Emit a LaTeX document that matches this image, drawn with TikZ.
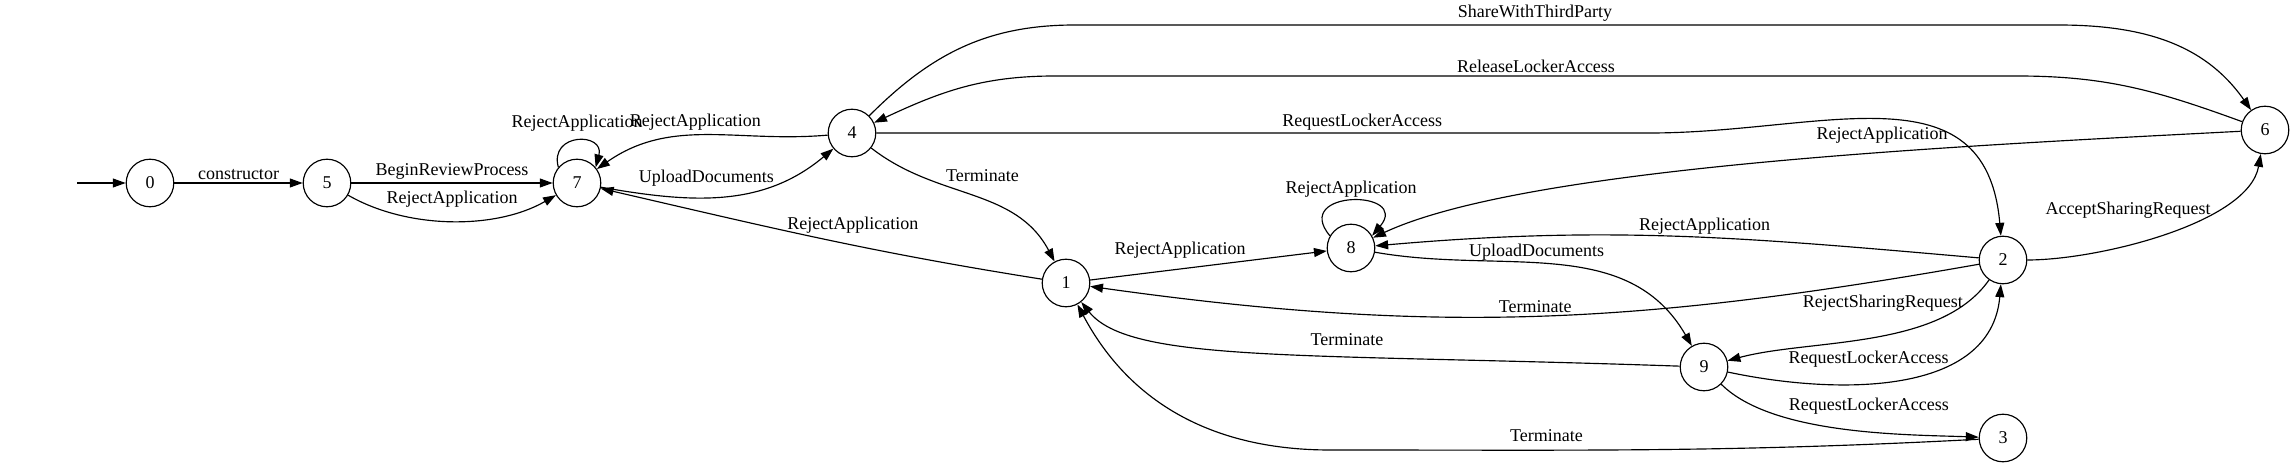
\documentclass[tikz,border=0pt]{standalone}
\usepackage{fontspec}
\setmainfont{Liberation Serif}
\usetikzlibrary{arrows.meta,positioning}

\begin{document}
\begin{tikzpicture}
[
x=0.7778pt, y=0.7778pt,
font=\fontsize{14}{16}\selectfont,
inner sep=2pt,
line width=0.9pt,
>={Triangle[length=10pt,width=7pt]},
state/.style={circle, draw=black, line width=0.9pt, minimum size=37pt, inner sep=0pt}
]
\useasboundingbox (0,0) rectangle (2295,468);

%Nodes
\node[state]    (s0)    at (150,285)    {0};
\node[state]    (s5)    at (327,285)    {5};
\node[state]    (s7)    at (577,285)    {7};
\node[state]    (s4)    at (852,335)    {4};
\node[state]    (s1)    at (1066,185)   {1};
\node[state]    (s8)    at (1351,220)   {8};
\node[state]    (s9)    at (1704,101)   {9};
\node[state]    (s2)    at (2003,208)   {2};
\node[state]    (s3)    at (2003,30)    {3};
\node[state]    (s6)    at (2265,338)   {6};

%Waypoints
\coordinate (init)      at (77,285);
\coordinate (shareL)    at (1075,443);
\coordinate (shareR)    at (2058,443);
\coordinate (releaseR)  at (2017,392);
\coordinate (releaseL)  at (1055,392);
\coordinate (reqLocker) at (1650,335);
\coordinate (termLow)   at (1330,18);

%Lines
\draw[->] (init) -- (s0);
\path[->]
(s0)     edge                                           node[above]                 {constructor}           (s5)
(s5)     edge                                           node[above]                 {BeginReviewProcess}    (s7)
(s5)     edge[out=-30, in=-150, looseness=0.85]         node[above=8pt]             {RejectApplication}     (s7)
(s7.140) edge[out=105, in=75, looseness=2.5]            node[above=5pt]             {RejectApplication}     (s7.40)
(s4)     edge[out=185, in=35]                           node[above=2pt, pos=0.55]   {RejectApplication}     (s7)
(s7)     edge[out=-10, in=-140]                         node[above=6pt, pos=0.42]   {UploadDocuments}       (s4)
(s1)     edge[out=171, in=-13]                          node[above=7pt, pos=0.42]   {RejectApplication}     (s7)
(s4)     edge[out=-38, in=118]                          node[above right, pos=0.35] {Terminate}             (s1)
(s6)     edge[out=183, in=25, out looseness=0.8, in looseness=0.5] node[above=5pt, pos=0.38] {RejectApplication} (s8)
(s2)     edge[out=175, in=5]                            node[above, pos=0.45]       {RejectApplication}     (s8)
(s8.150) edge[out=130, in=50, looseness=3.7]            node[above]                 {RejectApplication}     (s8.30)
(s1)     edge                                           node[above=6pt, pos=0.38]   {RejectApplication}     (s8)
(s8)     edge[out=-10, in=120]                          node[above, pos=0.44]       {UploadDocuments}       (s9)
(s2)     edge[out=190, in=-8]                           node[above]                 {Terminate}             (s1)
(s2)     edge[out=-125, in=15, looseness=0.8]           node[left, pos=0.13]        {RejectSharingRequest}  (s9)
(s9)     edge[out=-12, in=-95]                          node[above=10pt, pos=0.4]   {RequestLockerAccess}   (s2)
(s9)     edge[out=-45, in=178, looseness=0.7]           node[above right, pos=0.3]  {RequestLockerAccess}   (s3)
(s2)     edge[out=0, in=-100, looseness=0.7]            node[left, pos=0.68]        {AcceptSharingRequest}  (s6);

\draw[->] (s9) .. controls (1300,115) and (1130,105) .. node[above=6pt, pos=0.36] {Terminate} (s1);
\draw[->] (s3) to[out=183, in=0] node[above=4pt, pos=0.68] {Terminate} (termLow) to[out=180, in=-62] (s1);
\draw[->] (s4) to[out=45, in=180] (shareL) -- node[above, pos=0.468] {ShareWithThirdParty} (shareR) to[out=0, in=125] (s6);
\draw[->] (s6) to[out=160, in=0] (releaseR) -- node[above] {ReleaseLockerAccess} (releaseL) to[out=180, in=25] (s4);
\draw[->] (s4) -- node[above, pos=0.628] {RequestLockerAccess} (reqLocker) to[out=0, in=95, looseness=1.2] (s2);

\end{tikzpicture}
\end{document}
